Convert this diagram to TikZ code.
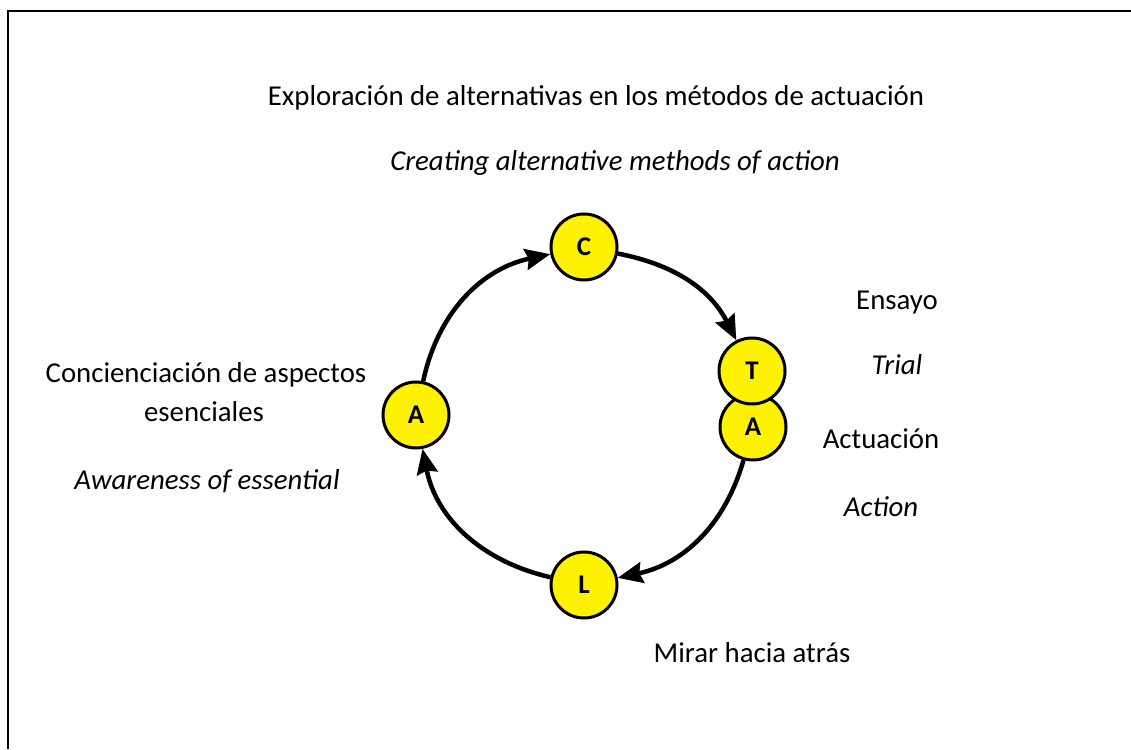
\documentclass[tikz,border=0pt]{standalone}
\usepackage{fontspec}
\setmainfont{Carlito}
\usetikzlibrary{arrows.meta}
\begin{document}
\begin{tikzpicture}[x=1pt,y=1pt,
  letter/.style={circle,draw=black,line width=3pt,fill=yellow,minimum size=66pt,inner sep=0pt,font=\fontsize{27}{32}\selectfont\bfseries},
  cyc/.style={line width=4.5pt,-{Stealth[length=25pt,width=21pt,inset=3pt]}},
  lbl/.style={anchor=base,inner sep=0pt,font=\fontsize{28.8}{34}\selectfont},
  ilbl/.style={lbl,font=\fontsize{28.8}{34}\selectfont\itshape}]
\useasboundingbox (0,0) rectangle (1131,749);
\coordinate (f1) at (8,0);
\coordinate (f2) at (8,738);
\coordinate (f3) at (1131,738);
\draw[line width=1.8pt] (f1) -- (f2) -- (f3);
% nodes
\node[letter] (C) at (584,502) {C};
\node[letter] (Al) at (416,334) {A};
\node[letter] (L) at (584,164) {L};
\node[letter] (Ar) at (753,322) {A};
\node[letter] (T) at (752,378) {T};
% connectors
\draw[cyc] (Al) to[out=78,in=192] (C);
\draw[cyc] (C) to[out=-11,in=117] (T);
\draw[cyc] (Ar) to[out=-106,in=12] (L);
\draw[cyc] (L) to[out=167,in=-79] (Al);
% labels
\node[lbl] (t1) at (596,643) {Exploración de alternativas en los métodos de actuación};
\node[ilbl] (t2) at (615,578) {Creating alternative methods of action};
\node[lbl] (t3) at (897,439) {Ensayo};
\node[ilbl] (t4) at (897,374) {Trial};
\node[lbl] (t5) at (881,300) {Actuación};
\node[ilbl] (t6) at (881,232) {Action};
\node[lbl] (t7) at (752,86) {Mirar hacia atrás};
\node[lbl] (t8) at (206,366) {Concienciación de aspectos};
\node[lbl] (t9) at (204,327) {esenciales};
\node[ilbl] (t10) at (207,259) {Awareness of essential};
\end{tikzpicture}
\end{document}
